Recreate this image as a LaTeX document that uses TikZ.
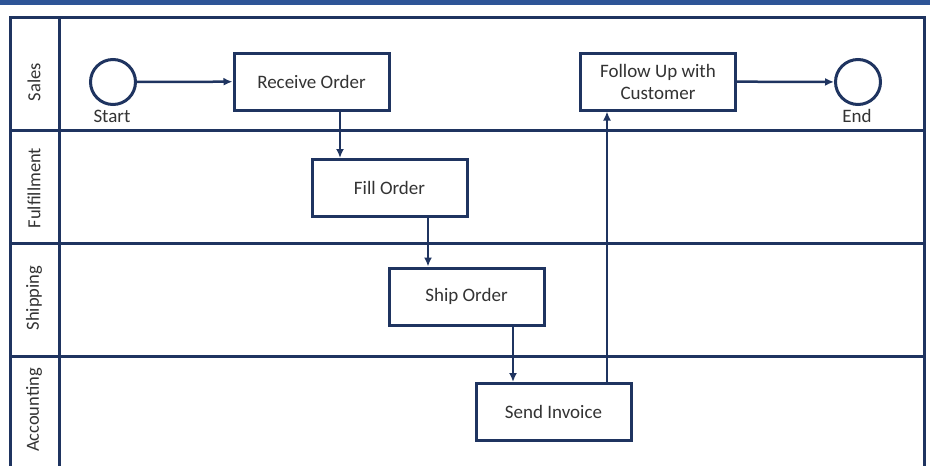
\documentclass[tikz,border=0pt]{standalone}
\usepackage{fontspec}
\setmainfont{Carlito}
\usetikzlibrary{arrows.meta}
\definecolor{navy}{HTML}{1F3460}
\definecolor{topbar}{HTML}{2E5597}
\definecolor{ink}{HTML}{333333}
\begin{document}
\begin{tikzpicture}[x=1pt,y=-1pt,
  lane/.style={draw=navy,line width=3pt},
  task/.style={draw=navy,line width=3pt,fill=white,minimum width=155pt,minimum height=57pt,
    inner sep=2pt,align=center,text=ink,font=\fontsize{19pt}{22pt}\selectfont},
  event/.style={circle,draw=navy,line width=3pt,fill=white,minimum size=45pt,inner sep=0pt},
  evlabel/.style={text=ink,font=\fontsize{19pt}{22pt}\selectfont,inner sep=0pt},
  lanelabel/.style={rotate=90,text=ink,font=\fontsize{18.5pt}{22pt}\selectfont,inner sep=0pt},
  arr/.style={draw=navy,line width=2.5pt,-{Latex[length=9pt,width=8pt]}}]
\useasboundingbox (0,0) rectangle (930,466);
\clip (0,0) rectangle (930,466);
% header bar
\fill[topbar] (0,0) rectangle (930,5);
% pool frame and swimlanes
\draw[lane] (10,480) -- (10,17) -- (924,17) -- (924,480);
\draw[lane] (59,17) -- (59,480);
\draw[lane] (10,130) -- (924,130);
\draw[lane] (10,243) -- (924,243);
\draw[lane] (10,356) -- (924,356);
% lane names
\node[lanelabel] (lsales) at (34,82) {Sales};
\node[lanelabel] (lfulfil) at (34,188) {Fulfillment};
\node[lanelabel] (lship) at (34,298) {Shipping};
\node[lanelabel] (lacct) at (34,410) {Accounting};
% events
\node[event] (start) at (113,82) {};
\node[evlabel] (startlbl) at (112,116) {Start};
\node[event] (end) at (858,82) {};
\node[evlabel] (endlbl) at (857,116) {End};
% tasks
\node[task] (receive) at (311.5,81.5) {Receive Order};
\node[task] (follow) at (658,81.5) {Follow Up with\\Customer};
\node[task] (fill) at (389.5,188) {Fill Order};
\node[task] (ship) at (466.5,296.5) {Ship Order};
\node[task] (invoice) at (553.5,412) {Send Invoice};
% connector positions
\coordinate (x1) at (340,0);
\coordinate (x2) at (428,0);
\coordinate (x3) at (513,0);
\coordinate (x4) at (607,0);
% sequence flows
\draw[arr] (start) -- (receive);
\draw[arr] (receive.south -| x1) -- (fill.north -| x1);
\draw[arr] (fill.south -| x2) -- (ship.north -| x2);
\draw[arr] (ship.south -| x3) -- (invoice.north -| x3);
\draw[arr] (invoice.north -| x4) -- (follow.south -| x4);
\draw[arr] (follow) -- (end);
\end{tikzpicture}
\end{document}
